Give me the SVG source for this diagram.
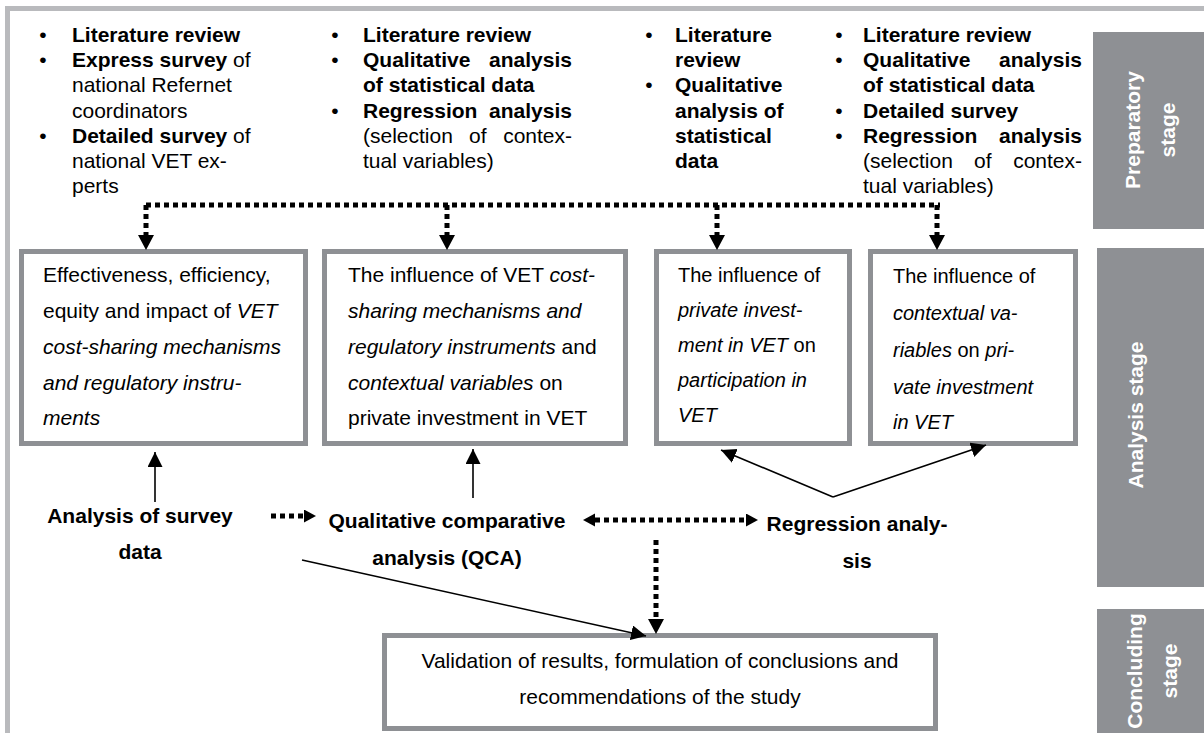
<svg xmlns="http://www.w3.org/2000/svg" width="1204" height="733" viewBox="0 0 1204 733">
<style>
text{font-family:"Liberation Sans",Arial,sans-serif;fill:#000}
.t{font-size:21px}
.s{font-size:20px}
.b{font-weight:bold}
.i{font-style:italic}
.st{font-size:21px;font-weight:bold;fill:#fff}
.box{fill:#fff;stroke:#8e9094;stroke-width:5}
.stage{fill:#8e9094}
.frame{fill:#b9babd}
.dot{fill:none;stroke:#000;stroke-width:5;stroke-dasharray:5 4}
.sol{fill:none;stroke:#000;stroke-width:1.6}
</style>
<defs>
<marker id="dv" markerUnits="userSpaceOnUse" markerWidth="16" markerHeight="18" refX="0" refY="8" orient="auto"><path d="M0,0 L15,8 L0,16 z" fill="#000"/></marker>
<marker id="dh" markerUnits="userSpaceOnUse" markerWidth="13" markerHeight="14" refX="0" refY="6.5" orient="auto-start-reverse"><path d="M0,0 L12,6.5 L0,13 z" fill="#000"/></marker>
<marker id="sa" markerUnits="userSpaceOnUse" markerWidth="16" markerHeight="16" refX="15" refY="7.5" orient="auto"><path d="M0,0 L15,7.5 L0,15 z" fill="#000"/></marker>
</defs>
<rect width="1204" height="733" fill="#fff"/>
<rect class="frame" x="5" y="6" width="1199" height="5"/>
<rect class="frame" x="5" y="6" width="5" height="727"/>

<g id="stage-preparatory">
<rect class="stage" x="1093" y="32" width="111" height="197"/>
<text class="st" transform="translate(1140,130) rotate(-90)" text-anchor="middle">Preparatory</text>
<text class="st" transform="translate(1175,130) rotate(-90)" text-anchor="middle">stage</text>
</g>
<g id="stage-analysis">
<rect class="stage" x="1097" y="248" width="107" height="339"/>
<text class="st" transform="translate(1143,415) rotate(-90)" text-anchor="middle">Analysis stage</text>
</g>
<g id="stage-concluding">
<rect class="stage" x="1097" y="609" width="107" height="124"/>
<text class="st" transform="translate(1142,671) rotate(-90)" text-anchor="middle">Concluding</text>
<text class="st" transform="translate(1177,671) rotate(-90)" text-anchor="middle">stage</text>
</g>

<g id="prep-col1" class="t">
<text x="43" y="42" text-anchor="middle">•</text>
<text x="43" y="67.2" text-anchor="middle">•</text>
<text x="43" y="142.8" text-anchor="middle">•</text>
<text x="72" y="42" class="b">Literature review</text>
<text x="72" y="67.2"><tspan class="b">Express survey</tspan> of</text>
<text x="72" y="92.4">national Refernet</text>
<text x="72" y="117.6">coordinators</text>
<text x="72" y="142.8"><tspan class="b">Detailed survey</tspan> of</text>
<text x="72" y="168">national VET ex-</text>
<text x="72" y="193.2">perts</text>
</g>

<g id="prep-col2" class="t">
<text x="335" y="42" text-anchor="middle">•</text>
<text x="335" y="67.2" text-anchor="middle">•</text>
<text x="335" y="117.6" text-anchor="middle">•</text>
<text x="363" y="42" class="b">Literature review</text>
<text x="363" y="67.2" class="b">Qualitative</text>
<text x="572" y="67.2" class="b" text-anchor="end">analysis</text>
<text x="363" y="92.4" class="b">of statistical data</text>
<text x="363" y="117.6" class="b">Regression</text>
<text x="572" y="117.6" class="b" text-anchor="end">analysis</text>
<text x="363" y="142.8">(selection</text>
<text x="469" y="142.8">of</text>
<text x="572" y="142.8" text-anchor="end">contex-</text>
<text x="363" y="168">tual variables)</text>
</g>

<g id="prep-col3" class="t b">
<text x="649" y="42" text-anchor="middle" style="font-weight:normal">•</text>
<text x="649" y="92.4" text-anchor="middle" style="font-weight:normal">•</text>
<text x="675" y="42">Literature</text>
<text x="675" y="67.2">review</text>
<text x="675" y="92.4">Qualitative</text>
<text x="675" y="117.6">analysis of</text>
<text x="675" y="142.8">statistical</text>
<text x="675" y="168">data</text>
</g>

<g id="prep-col4" class="t">
<text x="839" y="42" text-anchor="middle">•</text>
<text x="839" y="67.2" text-anchor="middle">•</text>
<text x="839" y="117.6" text-anchor="middle">•</text>
<text x="839" y="142.8" text-anchor="middle">•</text>
<text x="863" y="42" class="b">Literature review</text>
<text x="863" y="67.2" class="b">Qualitative</text>
<text x="1082" y="67.2" class="b" text-anchor="end">analysis</text>
<text x="863" y="92.4" class="b">of statistical data</text>
<text x="863" y="117.6" class="b">Detailed survey</text>
<text x="863" y="142.8" class="b">Regression</text>
<text x="1082" y="142.8" class="b" text-anchor="end">analysis</text>
<text x="863" y="168">(selection</text>
<text x="974" y="168">of</text>
<text x="1082" y="168" text-anchor="end">contex-</text>
<text x="863" y="193.2">tual variables)</text>
</g>

<g id="box1" class="t">
<rect class="box" x="21.5" y="251.5" width="284" height="192"/>
<text x="43" y="282">Effectiveness, efficiency,</text>
<text x="43" y="318">equity and impact of <tspan class="i">VET</tspan></text>
<text x="43" y="354" class="i">cost-sharing mechanisms</text>
<text x="43" y="390" class="i">and regulatory instru-</text>
<text x="43" y="425" class="i">ments</text>
</g>
<g id="box2" class="t">
<rect class="box" x="324.5" y="251.5" width="301" height="192"/>
<text x="348" y="282">The influence of VET <tspan class="i">cost-</tspan></text>
<text x="348" y="318" class="i">sharing mechanisms and</text>
<text x="348" y="354"><tspan class="i">regulatory instruments</tspan> and</text>
<text x="348" y="390"><tspan class="i">contextual variables</tspan> on</text>
<text x="348" y="425">private investment in VET</text>
</g>
<g id="box3" class="s">
<rect class="box" x="656.5" y="251.5" width="193" height="192"/>
<text x="678" y="282">The influence of</text>
<text x="678" y="317" class="i">private invest-</text>
<text x="678" y="352"><tspan class="i">ment in VET</tspan> on</text>
<text x="678" y="387" class="i">participation in</text>
<text x="678" y="422" class="i">VET</text>
</g>
<g id="box4" class="s">
<rect class="box" x="870.5" y="251.5" width="205" height="192"/>
<text x="893" y="283">The influence of</text>
<text x="893" y="320" class="i">contextual va-</text>
<text x="893" y="357"><tspan class="i">riables</tspan> on <tspan class="i">pri-</tspan></text>
<text x="893" y="394" class="i">vate investment</text>
<text x="893" y="429" class="i">in VET</text>
</g>

<g id="label-survey" class="t b">
<text x="140" y="523" text-anchor="middle">Analysis of survey</text>
<text x="140" y="559" text-anchor="middle">data</text>
</g>
<g id="label-qca" class="t b">
<text x="447" y="528" text-anchor="middle">Qualitative comparative</text>
<text x="447" y="565" text-anchor="middle">analysis (QCA)</text>
</g>
<g id="label-regression" class="t b">
<text x="857" y="531" text-anchor="middle">Regression analy-</text>
<text x="857" y="568" text-anchor="middle">sis</text>
</g>

<g id="box-validation" class="t">
<rect class="box" x="384.5" y="635.5" width="551" height="93"/>
<text x="660" y="668" text-anchor="middle">Validation of results, formulation of conclusions and</text>
<text x="660" y="704" text-anchor="middle">recommendations of the study</text>
</g>

<g id="connectors">
<path class="dot" d="M146,205 H940"/>
<path class="dot" d="M146,205 V235" marker-end="url(#dv)"/>
<path class="dot" d="M447,205 V235" marker-end="url(#dv)"/>
<path class="dot" d="M717,205 V235" marker-end="url(#dv)"/>
<path class="dot" d="M937,205 V235" marker-end="url(#dv)"/>
<path class="sol" d="M155,502 V452" marker-end="url(#sa)"/>
<path class="sol" d="M473,498 V449" marker-end="url(#sa)"/>
<path class="sol" d="M833,497 L721,450" marker-end="url(#sa)"/>
<path class="sol" d="M833,497 L986,445" marker-end="url(#sa)"/>
<path class="dot" d="M271,516 H304" marker-end="url(#dh)"/>
<path class="dot" d="M595,520 H746" marker-start="url(#dh)" marker-end="url(#dh)"/>
<path class="dot" d="M656,540 V619" marker-end="url(#dv)"/>
<path class="sol" d="M302,560 L646,636" marker-end="url(#sa)"/>
</g>
</svg>
